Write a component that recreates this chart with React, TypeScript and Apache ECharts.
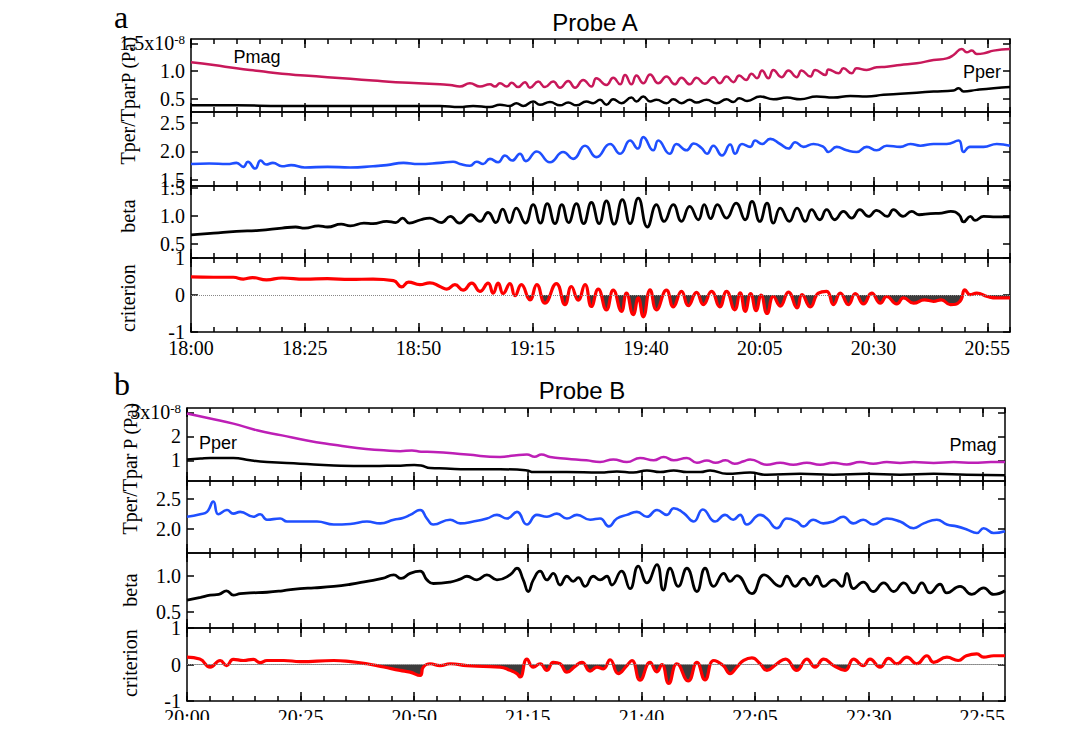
import { useEffect, useRef } from 'react';
import * as echarts from 'echarts';

type Pt = [number, number];

// Time axis is minutes after the start of each panel (18:00 for probe A, 20:00 for probe B).
// Each series is a list of [minute, value] turning points, joined with smooth curves.

const probeAPmag: Pt[] = [
  [0, 1.16], [5, 1.11], [10, 1.05], [15, 1.0], [20, 0.95], [25, 0.92], [30, 0.89], [35, 0.86], [40, 0.83], [45, 0.8],
  [50, 0.78], [54.7, 0.76], [56.9, 0.75], [59.1, 0.72], [61.3, 0.78], [63.5, 0.72], [65.7, 0.76], [66.8, 0.72], [67.9, 0.78],
  [69.4, 0.72], [70.5, 0.79], [71.9, 0.71], [73.4, 0.8], [74.5, 0.7], [76.3, 0.81], [77.8, 0.71], [79.6, 0.81], [81.1, 0.7],
  [82.9, 0.82], [84.4, 0.7], [86.2, 0.84], [88.0, 0.72], [89.1, 0.87], [91.3, 0.75], [92.8, 0.88], [94.3, 0.76], [95.4, 0.93],
  [96.8, 0.76], [97.9, 0.92], [99.4, 0.78], [100.9, 0.94], [102.7, 0.78], [104.5, 0.9], [106.3, 0.76], [107.8, 0.88],
  [109.6, 0.76], [111.1, 0.88], [112.9, 0.77], [114.8, 0.89], [116.2, 0.78], [117.7, 0.9], [119.2, 0.8], [120.5, 0.92],
  [122.0, 0.84], [123.2, 0.95], [124.4, 0.87], [125.5, 1.01], [126.9, 0.87], [128.0, 1.02], [129.8, 0.89], [131.3, 1.01],
  [133.1, 0.89], [134.2, 1.01], [136.1, 0.9], [137.2, 1.02], [139.4, 0.93], [140.1, 1.03], [142.3, 0.96], [143.4, 1.05],
  [145.2, 0.96], [146.3, 1.05], [148.5, 1.02], [150.7, 1.07], [152.9, 1.08], [155.9, 1.11], [159.5, 1.14], [163.2, 1.2],
  [166.1, 1.23], [167.6, 1.29], [169.4, 1.4], [170.5, 1.34], [171.6, 1.37], [172.7, 1.31], [174.2, 1.32], [176.4, 1.37], [180, 1.4],
];

const probeAPper: Pt[] = [
  [0, 0.38], [10, 0.38], [20, 0.37], [30, 0.37], [40, 0.37], [50, 0.37], [54.7, 0.37], [59, 0.35], [62, 0.37], [65.7, 0.35],
  [67.9, 0.39], [70.1, 0.37], [71.5, 0.42], [73, 0.37], [75.2, 0.45], [76.7, 0.39], [78.9, 0.44], [81.1, 0.38], [82.9, 0.43],
  [84.7, 0.38], [86.9, 0.45], [88.4, 0.42], [89.9, 0.48], [91.3, 0.39], [92.8, 0.49], [94.6, 0.42], [96.8, 0.52], [97.9, 0.45],
  [99.4, 0.54], [100.9, 0.45], [102.3, 0.48], [104.5, 0.42], [106, 0.49], [107.8, 0.42], [109.6, 0.48], [111.1, 0.43],
  [113.3, 0.48], [115.5, 0.42], [117.7, 0.49], [119.2, 0.44], [120.5, 0.51], [122.2, 0.46], [125.1, 0.54], [128, 0.49],
  [131, 0.52], [133.9, 0.49], [137.5, 0.54], [141.2, 0.52], [144.9, 0.55], [148.5, 0.54], [152.2, 0.57], [155.9, 0.59],
  [159.5, 0.61], [163.2, 0.63], [167.6, 0.65], [168.7, 0.69], [169.8, 0.63], [172.7, 0.66], [176.4, 0.69], [180, 0.71],
];

const probeARatio: Pt[] = [
  [0, 1.78], [4, 1.79], [8, 1.78], [10, 1.8], [11.5, 1.73], [12.5, 1.82], [14.1, 1.7], [15.3, 1.84], [16.5, 1.77], [18, 1.8],
  [20, 1.74], [22, 1.76], [25, 1.72], [30, 1.73], [35, 1.72], [40, 1.74], [43, 1.76], [46.7, 1.8], [50, 1.78], [54.7, 1.8],
  [57.6, 1.82], [59.1, 1.78], [61.3, 1.75], [62.8, 1.82], [64.2, 1.78], [65.7, 1.87], [67.5, 1.81], [69.0, 1.93], [70.6, 1.84],
  [72.3, 1.96], [73.6, 1.83], [76.0, 2.0], [78.9, 1.81], [81.8, 1.99], [84.0, 1.87], [86.6, 2.1], [89.1, 1.9], [92.1, 2.13],
  [94.3, 1.96], [96.5, 2.19], [98.2, 2.05], [99.4, 2.25], [101.6, 2.02], [102.7, 2.19], [105.2, 1.96], [106.7, 2.13],
  [108.9, 2.02], [110.5, 2.14], [112.2, 2.06], [113.4, 1.96], [114.8, 2.1], [116.7, 1.93], [118.5, 2.12], [119.6, 1.96],
  [121.1, 2.13], [122.9, 2.08], [124.0, 2.19], [125.5, 2.13], [127.3, 2.22], [129.5, 2.13], [131.3, 2.05], [132.8, 2.16],
  [134.6, 2.08], [136.8, 2.13], [139.0, 2.08], [140.1, 1.99], [141.9, 2.08], [144.1, 2.02], [146.3, 1.99], [148.5, 2.08],
  [150.7, 2.02], [152.9, 2.1], [155.9, 2.08], [158.1, 2.13], [160.3, 2.1], [163.2, 2.13], [166.1, 2.13], [168.7, 2.19],
  [169.8, 1.99], [171.2, 2.08], [174.2, 2.08], [177.1, 2.13], [180, 2.1],
];

const probeABeta: Pt[] = [
  [0, 0.66], [5, 0.69], [10, 0.72], [15, 0.74], [20, 0.78], [23, 0.8], [25, 0.78], [28, 0.82], [30, 0.8], [33, 0.85],
  [35, 0.82], [38, 0.87], [40, 0.86], [43, 0.9], [45, 0.88], [46.5, 0.96], [48, 0.87], [50.5, 0.93], [52.5, 0.96], [55, 0.88],
  [57, 0.99], [59, 0.87], [61.5, 1.02], [63.5, 0.9], [65.3, 1.06], [67, 0.88], [68.5, 1.12], [70, 0.88], [71.5, 1.14],
  [73.5, 0.87], [75.2, 1.2], [76.8, 0.87], [78.3, 1.22], [80, 0.86], [81.5, 1.2], [83, 0.88], [84.7, 1.22], [86.3, 0.86],
  [88, 1.24], [89.7, 0.86], [91.3, 1.27], [93, 0.85], [94.8, 1.29], [96.5, 0.86], [98.3, 1.32], [100.3, 0.8], [102.3, 1.2],
  [104, 0.9], [106, 1.2], [107.8, 0.9], [109.6, 1.17], [111.5, 0.93], [112.8, 1.2], [114.2, 0.95], [115.7, 1.2],
  [117.7, 0.96], [119.8, 1.23], [121.8, 0.93], [123.3, 1.26], [125, 0.9], [126.6, 1.23], [128, 0.87], [129.5, 1.14],
  [131.5, 0.9], [133.2, 1.14], [135, 0.9], [136.4, 1.11], [138.2, 0.93], [139.7, 1.11], [141.5, 0.93], [143.4, 1.08],
  [145.2, 0.96], [147, 1.11], [148.9, 0.99], [150.7, 1.1], [153, 0.99], [154.4, 1.11], [156.5, 0.99], [158.4, 1.08],
  [160, 1.02], [162.5, 1.04], [165, 1.05], [167, 1.08], [168.8, 1.02], [169.8, 0.89], [171.3, 0.99], [172.3, 0.92],
  [174.2, 0.99], [177, 0.98], [180, 0.98],
];

const probeACriterion: Pt[] = [
  [0, 0.49], [5, 0.48], [9.3, 0.48], [11.5, 0.43], [13.5, 0.47], [16.6, 0.41], [20, 0.46], [25, 0.43], [30, 0.44], [35, 0.42],
  [40, 0.43], [44.5, 0.39], [46.3, 0.22], [47.8, 0.35], [50.3, 0.28], [52.5, 0.33], [54.7, 0.23], [56.2, 0.16], [58, 0.28],
  [59.8, 0.13], [61.7, 0.32], [63.5, 0.1], [65.3, 0.32], [66.4, 0.05], [67.5, 0.32], [68.6, 0.04], [70.1, 0.31], [71.2, -0.02],
  [72.6, 0.28], [74.5, -0.13], [76, 0.28], [77.8, -0.22], [80.3, 0.31], [82.2, -0.26], [83.6, 0.23], [85.1, -0.14],
  [86.6, 0.28], [88, -0.31], [89.5, 0.16], [91.3, -0.4], [92.8, 0.13], [94.6, -0.44], [95.7, 0.05], [97.2, -0.53],
  [98.3, -0.08], [99.4, -0.59], [100.9, 0.14], [102.3, -0.4], [104.5, 0.13], [106, -0.32], [107.8, 0.1], [109.3, -0.29],
  [111.1, 0.07], [112.6, -0.26], [114.4, 0.1], [116.2, -0.32], [117.7, 0.1], [119.5, -0.4], [120.7, 0.06], [121.8, -0.44],
  [123, 0.04], [124.2, -0.42], [125.3, 0.0], [126.6, -0.5], [128, -0.04], [129.5, -0.3], [131.3, 0.08], [133.2, -0.35],
  [134.3, 0.01], [136.1, -0.32], [137.9, 0.05], [139.7, 0.1], [141.2, -0.26], [142.7, 0.05], [144.5, -0.26], [146, 0.04],
  [147.8, -0.24], [149.6, 0.05], [151.5, -0.22], [152.9, -0.04], [155.1, -0.24], [156.6, -0.08], [158.8, -0.22],
  [161.2, -0.13], [163.2, -0.17], [164.9, -0.13], [166.9, -0.26], [169, -0.17], [170.1, 0.14], [171.2, 0.01], [172.7, 0.05],
  [175, -0.04], [177.1, -0.08], [180, -0.08],
];

const probeBPmag: Pt[] = [
  [0, 2.95], [5.1, 2.74], [10.2, 2.53], [15.4, 2.25], [20.9, 2.04], [26.4, 1.83], [32.3, 1.65], [37.4, 1.51], [43.3, 1.42],
  [46.9, 1.38], [49.5, 1.41], [51.5, 1.36], [54.2, 1.35], [61.6, 1.24], [68.9, 1.14], [72, 1.2], [74.8, 1.24], [76.5, 1.15],
  [78, 1.24], [79.9, 1.14], [83.6, 1.07], [87.9, 1.0], [90.9, 0.93], [93.8, 1.04], [96.8, 0.93], [99.7, 1.1], [102.7, 1.0],
  [104.9, 1.14], [107.1, 1.0], [110, 1.1], [112.2, 0.9], [114.4, 0.99], [116.3, 0.9], [118.5, 1.0], [120.5, 0.86],
  [122.5, 0.96], [123.9, 1.04], [127.6, 0.82], [130.5, 0.9], [133.4, 0.82], [136.4, 0.9], [139.3, 0.82], [142.2, 0.9],
  [145.2, 0.83], [148.1, 0.93], [151, 0.86], [154, 0.93], [156.9, 0.89], [159.9, 0.93], [164.3, 0.89], [168.7, 0.93],
  [173.1, 0.9], [176.9, 0.93], [180, 0.93],
];

const probeBPper: Pt[] = [
  [0, 1.04], [3, 1.08], [5.1, 1.1], [10.2, 1.1], [13.9, 1.0], [17.6, 0.93], [24.9, 0.86], [32.3, 0.79], [39.6, 0.76],
  [44, 0.77], [47, 0.78], [50, 0.81], [51.5, 0.79], [53.5, 0.68], [57, 0.66], [61.6, 0.63], [68.9, 0.63], [74.8, 0.58],
  [76.2, 0.51], [83.6, 0.51], [90.9, 0.49], [94.6, 0.54], [98.2, 0.49], [101.2, 0.58], [104.1, 0.51], [107.1, 0.58],
  [110, 0.51], [113, 0.51], [115.1, 0.58], [118.8, 0.44], [123.9, 0.49], [127.6, 0.4], [134.9, 0.44], [142.2, 0.4],
  [149.6, 0.44], [156.9, 0.4], [164.3, 0.44], [171.6, 0.4], [180, 0.38],
];

const probeBRatio: Pt[] = [
  [0, 2.2], [2.9, 2.24], [4.4, 2.28], [5.8, 2.45], [6.9, 2.24], [8.8, 2.31], [10.2, 2.25], [11.7, 2.28], [14.6, 2.2],
  [16.1, 2.24], [17.6, 2.15], [20.5, 2.17], [22, 2.12], [24.9, 2.12], [28.6, 2.12], [32.3, 2.07], [35.9, 2.08], [39.6, 2.12],
  [42.5, 2.09], [45.5, 2.15], [47.5, 2.18], [49.1, 2.23], [51.3, 2.31], [52.8, 2.17], [54.2, 2.07], [57.9, 2.15],
  [60.1, 2.09], [63, 2.12], [66, 2.17], [68.2, 2.23], [70.4, 2.17], [72.6, 2.28], [74.8, 2.07], [77, 2.23], [79.2, 2.2],
  [81.4, 2.25], [83.6, 2.17], [85.8, 2.23], [88.7, 2.15], [90.9, 2.17], [92.8, 2.04], [94.6, 2.17], [96.8, 2.23], [99, 2.28],
  [101.2, 2.2], [103.4, 2.31], [105.6, 2.23], [107.1, 2.34], [109.3, 2.26], [111.5, 2.12], [113.5, 2.32], [116.2, 2.12],
  [118.4, 2.23], [120.2, 2.15], [121.7, 2.23], [123.2, 2.07], [126.1, 2.23], [127.6, 2.17], [129.8, 2.01], [132, 2.17],
  [134.2, 2.12], [135.6, 2.04], [137.8, 2.15], [140, 2.09], [142.2, 2.12], [144.4, 2.2], [146.6, 2.09], [148.8, 2.15],
  [151, 2.07], [154, 2.17], [156.9, 2.12], [159.9, 2.01], [162.1, 2.09], [165, 2.15], [167.2, 2.07], [169.4, 2.04],
  [171.6, 1.99], [173.8, 1.93], [175.3, 2.01], [177.5, 1.93], [180, 1.96],
];

const probeBBeta: Pt[] = [
  [0, 0.66], [3, 0.7], [5.1, 0.73], [7, 0.74], [8.7, 0.79], [10.2, 0.73], [11.7, 0.75], [13.9, 0.76], [17.6, 0.77], [21, 0.79],
  [24.9, 0.82], [28, 0.83], [32.3, 0.85], [36, 0.88], [39.6, 0.92], [43, 0.96], [45.5, 1.01], [47.1, 0.96], [49.1, 1.03],
  [51.3, 1.06], [52.8, 0.94], [54.2, 0.89], [57.9, 0.91], [60.1, 0.95], [61.6, 0.99], [63.8, 0.94], [66, 1.01], [68.2, 0.94],
  [71.1, 1.01], [72.6, 1.1], [74, 0.94], [75.1, 0.78], [76.2, 0.94], [77.7, 1.06], [79.2, 0.94], [80.6, 1.03], [82.1, 0.87],
  [83.6, 0.99], [85, 0.92], [86.1, 0.97], [87.6, 0.85], [89.4, 0.99], [90.9, 0.94], [92.4, 0.99], [93.5, 0.87], [95.6, 1.06],
  [97.5, 0.82], [99.3, 1.13], [101.2, 0.9], [103.4, 1.15], [104.8, 0.8], [106.3, 1.1], [108.1, 0.85], [110, 1.1], [112.2, 0.78],
  [114, 1.1], [115.9, 0.85], [118.1, 1.03], [119.5, 0.92], [121, 1.0], [124.3, 0.75], [127, 1.01], [130.5, 0.85], [132, 0.99],
  [133.8, 0.85], [135.7, 0.96], [137.1, 0.87], [138.6, 0.99], [140.1, 0.85], [142.3, 0.94], [144.1, 0.85], [145.2, 1.03],
  [146.7, 0.82], [148.8, 0.91], [151, 0.78], [153.3, 0.9], [155.5, 0.78], [157.7, 0.9], [159.9, 0.76], [161.7, 0.9],
  [163.5, 0.76], [165.7, 0.88], [167.2, 0.76], [170.1, 0.85], [172.7, 0.74], [175.3, 0.83], [177.5, 0.74], [180, 0.79],
];

const probeBCriterion: Pt[] = [
  [0, 0.2], [2.8, 0.15], [5.1, -0.07], [7.3, 0.11], [8.7, -0.03], [10.2, 0.14], [12.4, 0.11], [14.6, 0.14], [16.1, 0.05],
  [17.6, 0.11], [21.3, 0.11], [24.9, 0.08], [32.3, 0.11], [36, 0.08], [39.6, 0.02], [43.3, -0.07], [46.9, -0.16],
  [49.1, -0.21], [51.3, -0.3], [52, -0.07], [53.5, 0.02], [55.7, -0.03], [57.9, 0.02], [61.6, -0.03], [65.2, -0.05],
  [68.9, -0.07], [71.1, -0.16], [72.6, -0.25], [73.3, -0.34], [74.8, 0.15], [76.2, -0.07], [77.7, 0.02], [79.2, -0.16],
  [80.6, 0.06], [82.1, 0.02], [83.6, -0.21], [85.4, -0.05], [86.9, 0.06], [88.7, -0.18], [90.2, -0.07], [91.6, -0.12],
  [93.1, 0.13], [94.9, -0.25], [96.8, -0.03], [97.9, 0.11], [99.7, -0.43], [101.9, 0.06], [103.4, -0.2], [104.5, 0.0],
  [106, -0.52], [107.8, 0.02], [110.3, -0.45], [112.2, 0.06], [114, -0.42], [115.9, 0.11], [118, -0.03], [119.5, -0.25],
  [121, -0.07], [122.5, 0.11], [124.3, 0.18], [126.1, 0.02], [127.6, -0.16], [129.8, 0.02], [131.7, 0.15], [134.2, -0.16],
  [136.4, 0.15], [138.2, -0.07], [140.1, 0.15], [142.3, -0.03], [144.8, -0.16], [146.7, 0.15], [148.8, -0.03], [150.3, 0.15],
  [152.5, -0.07], [154.4, 0.17], [156.2, 0.02], [158.4, 0.2], [160.6, 0.02], [162.8, 0.24], [164.3, 0.06], [167.2, 0.2],
  [169.7, 0.11], [171.5, 0.24], [173.8, 0.29], [175.3, 0.2], [177.5, 0.24], [180, 0.24],
];

// Axis tick values
const minorTimeTicks: number[] = [0, 5, 10, 15, 20, 25, 30, 35, 40, 45, 50, 55, 60, 65, 70, 75, 80, 85, 90, 95, 100, 105, 110, 115, 120, 125, 130, 135, 140, 145, 150, 155, 160, 165, 170, 175, 180];
const majorTimeTicks: number[] = [0, 25, 50, 75, 100, 125, 150, 175];
const probeAPressureTicks = [0.5, 1.0, 1.5];
const probeARatioTicks = [1.5, 2.0, 2.5];
const probeABetaTicks = [0.5, 1.0, 1.5];
const probeBPressureTicks = [1, 2, 3];
const probeBRatioTicks = [2.0, 2.5];
const probeBBetaTicks = [0.5, 1.0];
const criterionTicks = [-1, 0, 1];

const SERIF = '"Liberation Serif", "Times New Roman", serif';
const SANS = '"Liberation Sans", Arial, Helvetica, sans-serif';

const COLORS = {
  pmagA: '#c8185a',
  pmagB: '#bd1fb6',
  black: '#000000',
  blue: '#1f4fff',
  red: '#ff0000',
  fill: '#3c3c3c',
};

const fixed1 = (v: number) => v.toFixed(1);
const plain = (v: number) => String(v);

type Row = {
  top: number;
  height: number;
  min: number;
  max: number;
  ticks: number[];
  fmt: (v: number) => string;
  lines: { data: Pt[]; color: string; width: number; criterion?: boolean }[];
};

type Panel = { left: number; width: number; startHour: number; rows: Row[] };

const panels: Panel[] = [
  {
    left: 191,
    width: 819,
    startHour: 18,
    rows: [
      {
        top: 39, height: 73, min: 0.26, max: 1.58, ticks: probeAPressureTicks,
        fmt: (v) => (v === 1.5 ? '{m|1.5x10}{s|-8}' : fixed1(v)),
        lines: [
          { data: probeAPmag, color: COLORS.pmagA, width: 2.5 },
          { data: probeAPper, color: COLORS.black, width: 2.5 },
        ],
      },
      {
        top: 112, height: 74, min: 1.395, max: 2.69, ticks: probeARatioTicks, fmt: fixed1,
        lines: [{ data: probeARatio, color: COLORS.blue, width: 2.6 }],
      },
      {
        top: 186, height: 72, min: 0.243, max: 1.536, ticks: probeABetaTicks, fmt: fixed1,
        lines: [{ data: probeABeta, color: COLORS.black, width: 2.8 }],
      },
      {
        top: 258, height: 74, min: -1, max: 1, ticks: criterionTicks, fmt: plain,
        lines: [{ data: probeACriterion, color: COLORS.red, width: 3.2, criterion: true }],
      },
    ],
  },
  {
    left: 187,
    width: 818,
    startHour: 20,
    rows: [
      {
        top: 408, height: 73, min: 0.14, max: 3.18, ticks: probeBPressureTicks,
        fmt: (v) => (v === 3 ? '{m|3x10}{s|-8}' : plain(v)),
        lines: [
          { data: probeBPmag, color: COLORS.pmagB, width: 2.5 },
          { data: probeBPper, color: COLORS.black, width: 2.5 },
        ],
      },
      {
        top: 481, height: 72, min: 1.6, max: 2.79, ticks: probeBRatioTicks, fmt: fixed1,
        lines: [{ data: probeBRatio, color: COLORS.blue, width: 2.6 }],
      },
      {
        top: 553, height: 75, min: 0.278, max: 1.31, ticks: probeBBetaTicks, fmt: fixed1,
        lines: [{ data: probeBBeta, color: COLORS.black, width: 2.8 }],
      },
      {
        top: 628, height: 73, min: -1, max: 1, ticks: criterionTicks, fmt: plain,
        lines: [{ data: probeBCriterion, color: COLORS.red, width: 3.2, criterion: true }],
      },
    ],
  },
];

function clockLabel(startHour: number) {
  return (v: number) => {
    const m = startHour * 60 + Math.round(v);
    const h = Math.floor(m / 60);
    const mm = m % 60;
    return `${h}:${mm < 10 ? '0' : ''}${mm}`;
  };
}

function buildOption() {
  const grid: any[] = [];
  const xAxis: any[] = [];
  const yAxis: any[] = [];
  const series: any[] = [];
  const areaSeries: number[] = [];
  const frame = { color: '#000', width: 1.5 };

  panels.forEach((panel) => {
    panel.rows.forEach((row, ri) => {
      const g = grid.length;
      grid.push({ left: panel.left, top: row.top, width: panel.width, height: row.height, show: false });
      const isLast = ri === panel.rows.length - 1;
      const xBase = xAxis.length;
      const mkX = (position: string, ticks: number[], len: number, line: boolean, labels: boolean) => ({
        type: 'value',
        gridIndex: g,
        min: 0,
        max: 180,
        position,
        axisLine: { show: line, onZero: false, lineStyle: frame },
        axisTick: { show: true, inside: true, length: len, customValues: ticks, lineStyle: frame },
        axisLabel: {
          show: labels,
          customValues: majorTimeTicks,
          formatter: clockLabel(panel.startHour),
          margin: 6,
          color: '#000',
          fontSize: 20,
          fontFamily: SERIF,
        },
        splitLine: { show: false },
        minorTick: { show: false },
      });
      xAxis.push(mkX('bottom', minorTimeTicks, 5, true, false));
      xAxis.push(mkX('bottom', majorTimeTicks, 9, false, isLast));
      xAxis.push(mkX('top', minorTimeTicks, 5, true, false));
      xAxis.push(mkX('top', majorTimeTicks, 9, false, false));

      const yBase = yAxis.length;
      const mkY = (position: string, labels: boolean) => ({
        type: 'value',
        gridIndex: g,
        min: row.min,
        max: row.max,
        position,
        axisLine: { show: true, onZero: false, lineStyle: frame },
        axisTick: { show: true, inside: true, length: 7, customValues: row.ticks, lineStyle: frame },
        axisLabel: {
          show: labels,
          customValues: row.ticks,
          formatter: row.fmt,
          margin: 6,
          color: '#000',
          fontSize: 20,
          fontFamily: SERIF,
          rich: {
            m: { fontSize: 20, fontFamily: SERIF, color: '#000' },
            s: { fontSize: 13, fontFamily: SERIF, color: '#000', verticalAlign: 'top', lineHeight: 12 },
          },
        },
        splitLine: { show: false },
      });
      yAxis.push(mkY('left', true));
      yAxis.push(mkY('right', false));

      row.lines.forEach((ln) => {
        if (ln.criterion) {
          areaSeries.push(series.length);
          series.push({
            type: 'line',
            xAxisIndex: xBase,
            yAxisIndex: yBase,
            data: ln.data,
            symbol: 'none',
            smooth: 0.5,
            silent: true,
            z: 2,
            lineStyle: { width: 0, opacity: 0 },
            areaStyle: { opacity: 1 },
          });
        }
        series.push({
          type: 'line',
          xAxisIndex: xBase,
          yAxisIndex: yBase,
          data: ln.data,
          symbol: 'none',
          smooth: 0.5,
          silent: true,
          z: 3,
          lineStyle: { color: ln.color, width: ln.width, join: 'round' },
          ...(ln.criterion
            ? {
                markLine: {
                  silent: true,
                  symbol: ['none', 'none'],
                  label: { show: false },
                  lineStyle: { type: 'dotted', color: '#888', width: 1 },
                  data: [{ yAxis: 0 }],
                },
              }
            : {}),
        });
      });
    });
  });

  const rotated = (text: string, x: number, y: number, size = 20) => ({
    type: 'text',
    x,
    y,
    rotation: Math.PI / 2,
    style: {
      text,
      fill: '#000',
      font: `${size}px ${SERIF}`,
      textAlign: 'center',
      textVerticalAlign: 'middle',
      align: 'center',
      verticalAlign: 'middle',
    },
  });
  const label = (text: string, x: number, y: number, font: string) => ({
    type: 'text',
    x,
    y,
    style: {
      text,
      fill: '#000',
      font,
      textAlign: 'center',
      textVerticalAlign: 'middle',
      align: 'center',
      verticalAlign: 'middle',
    },
  });

  const graphic = [
    label('a', 121, 17, `32px ${SERIF}`),
    label('b', 122, 384, `32px ${SERIF}`),
    label('Probe A', 595, 22, `24px ${SANS}`),
    label('Probe B', 582, 390, `24px ${SANS}`),
    label('Pmag', 257, 57, `18px ${SANS}`),
    label('Pper', 982, 72, `18px ${SANS}`),
    label('Pper', 218, 443, `18px ${SANS}`),
    label('Pmag', 973, 445, `18px ${SANS}`),
    rotated('P (Pa)', 128, 60, 19),
    rotated('Tper/Tpar', 128, 124),
    rotated('beta', 128, 216),
    rotated('criterion', 128, 298),
    rotated('P (Pa)', 130, 426, 19),
    rotated('Tper/Tpar', 130, 494),
    rotated('beta', 130, 590),
    rotated('criterion', 130, 663),
    { type: 'rect', z: 100, shape: { x: 0, y: 720, width: 1089, height: 12 }, style: { fill: '#ffffff' } },
  ];

  return {
    animation: false,
    backgroundColor: '#ffffff',
    grid,
    xAxis,
    yAxis,
    series,
    graphic,
    // Shade only the part of each criterion curve that lies below zero.
    visualMap: [
      {
        type: 'piecewise',
        show: false,
        dimension: 1,
        seriesIndex: areaSeries,
        pieces: [
          { gte: -2, lt: 0, color: COLORS.fill },
          { gte: 0, lte: 2, color: 'rgba(0,0,0,0)' },
        ],
        outOfRange: { color: 'rgba(0,0,0,0)' },
      },
    ],
  };
}

export default function App() {
  const ref = useRef<HTMLDivElement>(null);
  useEffect(() => {
    if (!ref.current) return;
    const chart = echarts.init(ref.current, undefined, { renderer: 'svg' });
    chart.setOption(buildOption() as any);
    return () => chart.dispose();
  }, []);
  return (
    <div
      ref={ref}
      style={{ position: 'absolute', left: 0, top: 0, width: 1089, height: 732, background: '#fff' }}
    />
  );
}
